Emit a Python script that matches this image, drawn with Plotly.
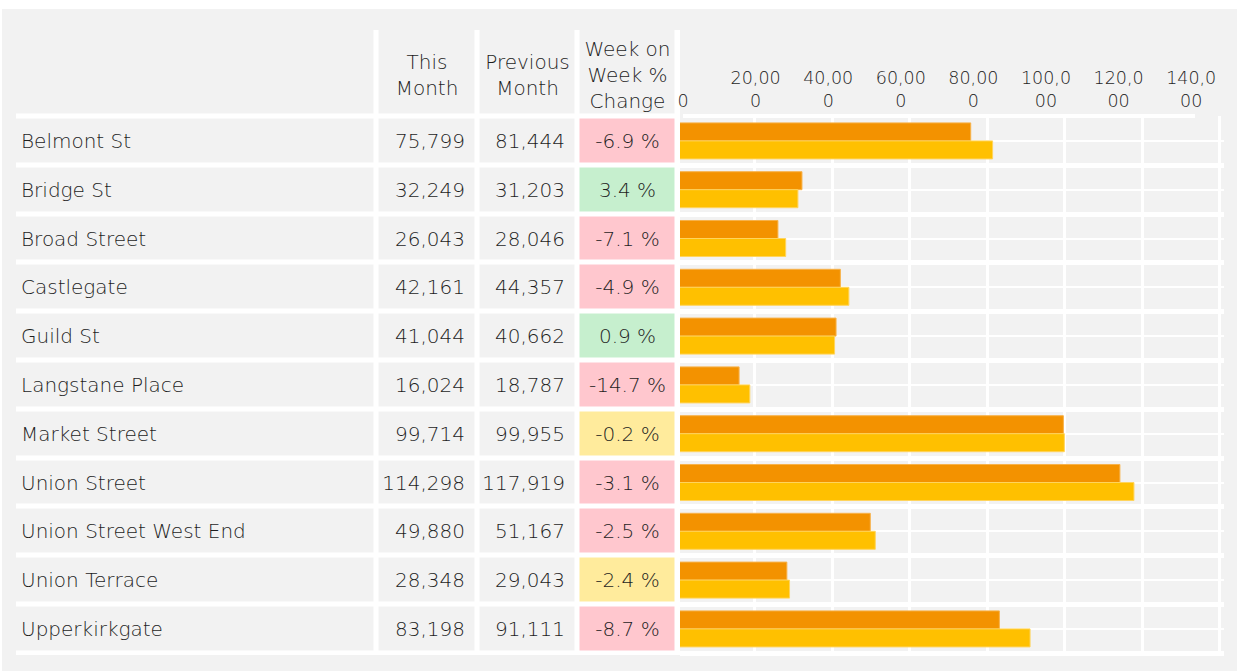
import plotly.graph_objects as go

# ---------------- data ----------------
streets = ["Belmont St", "Bridge St", "Broad Street", "Castlegate", "Guild St",
           "Langstane Place", "Market Street", "Union Street",
           "Union Street West End", "Union Terrace", "Upperkirkgate"]
this_month = [75799, 32249, 26043, 42161, 41044, 16024, 99714, 114298, 49880, 28348, 83198]
prev_month = [81444, 31203, 28046, 44357, 40662, 18787, 99955, 117919, 51167, 29043, 91111]
pct_change = [-6.9, 3.4, -7.1, -4.9, 0.9, -14.7, -0.2, -3.1, -2.5, -2.4, -8.7]
headers = ["", "This<br>Month", "Previous<br>Month", "Week on<br>Week %<br>Change"]
axis_ticks = [0, 20000, 40000, 60000, 80000, 100000, 120000, 140000]

# ---------------- styling / geometry ----------------
W, H = 1237, 671
FONT = "DejaVu Sans"
TXT = "#1e1e1e"
GREY = "#f2f2f2"
PINK, YELLOW, GREEN = "#ffc7ce", "#ffeb9c", "#c6efce"
ORANGE, GOLD = "#f39200", "#ffc000"

GAP = 5
col_widths = [363, 101, 100, 100]
col_left = 13.5
TOP_HDR = 30.0
ROW0 = 116.5
P = 48.8
BOTTOM = 655.0
TXT_DY = 2.0 / P

def fy(p):
    return 1 - p / H

def fx(p):
    return p / W

n = len(streets)
col_edges = [col_left]
for w in col_widths:
    col_edges.append(col_edges[-1] + w)

def idx(pxv):
    return (pxv - ROW0) / P - 0.5

hdr_top = idx(TOP_HDR - GAP / 2)
y_edges = [hdr_top] + [i - 0.5 for i in range(n + 1)]

def cat(v):
    if v > 0:
        return 3
    if v > -2.5:
        return 2
    return 1

z = [[0, 0, 0, 0]] + [[0, 0, 0, cat(v)] for v in pct_change]
cscale = [[0, GREY], [1/6, GREY], [1/6, PINK], [0.5, PINK],
          [0.5, YELLOW], [5/6, YELLOW], [5/6, GREEN], [1, GREEN]]

fig = go.Figure()

fig.add_trace(go.Heatmap(
    z=z, x=col_edges, y=y_edges, xgap=GAP, ygap=GAP,
    colorscale=cscale, zmin=0, zmax=3, showscale=False, hoverinfo="skip",
    xaxis="x", yaxis="y"))

rows = list(range(n))
text_rows = [r + TXT_DY for r in rows]
tfont = dict(family=FONT, size=20, color=TXT, weight=300)

fig.add_trace(go.Scatter(
    x=[col_edges[0] + GAP / 2 + 5] * n, y=text_rows, mode="text", text=streets,
    textposition="middle right", textfont=tfont, hoverinfo="skip",
    showlegend=False, xaxis="x", yaxis="y"))
fig.add_trace(go.Scatter(
    x=[col_edges[2] - GAP / 2 - 10] * n, y=text_rows, mode="text",
    text=[f"{v:,}" for v in this_month],
    textposition="middle left", textfont=tfont, hoverinfo="skip",
    showlegend=False, xaxis="x", yaxis="y"))
fig.add_trace(go.Scatter(
    x=[col_edges[3] - GAP / 2 - 10] * n, y=text_rows, mode="text",
    text=[f"{v:,}" for v in prev_month],
    textposition="middle left", textfont=tfont, hoverinfo="skip",
    showlegend=False, xaxis="x", yaxis="y"))
fig.add_trace(go.Scatter(
    x=[(col_edges[3] + col_edges[4]) / 2] * n, y=text_rows, mode="text",
    text=[f"{v:.1f} %" for v in pct_change],
    textposition="middle center", textfont=tfont, hoverinfo="skip",
    showlegend=False, xaxis="x", yaxis="y"))

hdr_center = idx(77)
fig.add_trace(go.Scatter(
    x=[(col_edges[i] + col_edges[i + 1]) / 2 for i in range(1, 4)],
    y=[hdr_center] * 3, mode="text", text=headers[1:],
    textposition="middle center", textfont=tfont, hoverinfo="skip",
    showlegend=False, xaxis="x", yaxis="y"))

# bars
fig.add_trace(go.Bar(
    x=this_month, y=rows, orientation="h", marker_color=ORANGE,
    marker_line=dict(width=1, color="#f7b24a"), name="This Month",
    xaxis="x2", yaxis="y2", hoverinfo="skip"))
fig.add_trace(go.Bar(
    x=prev_month, y=rows, orientation="h", marker_color=GOLD,
    marker_line=dict(width=1, color="#ffd45c"), name="Previous Month",
    xaxis="x2", yaxis="y2", hoverinfo="skip"))

# label axis carrier
fig.add_trace(go.Scatter(x=[None], y=[None], xaxis="x3", yaxis="y3",
                         showlegend=False, hoverinfo="skip"))

def wrap(v):
    s = f"{v:,}"
    return s if len(s) <= 5 else s[:5] + "<br>" + s[5:]

ZERO_PX = 677.0
STEP_PX = 77.5
LBL0_PX = 683.0
LBL_STEP = 72.6

fig.update_layout(
    width=W, height=H, margin=dict(l=0, r=0, t=0, b=0, pad=0, autoexpand=False),
    autosize=False,
    paper_bgcolor=GREY, plot_bgcolor=GREY, showlegend=False,
    barmode="group", bargap=0.262, bargroupgap=0,
    xaxis=dict(domain=[fx(16), fx(680)], range=[16, 680], visible=False,
               automargin=False, fixedrange=True),
    yaxis=dict(domain=[fy(BOTTOM), fy(TOP_HDR)], automargin=False,
               range=[idx(BOTTOM), idx(TOP_HDR)], visible=False, fixedrange=True),
    xaxis2=dict(domain=[fx(680), fx(1224)], automargin=False,
                range=[(680 - ZERO_PX) / STEP_PX * 20000, (1224 - ZERO_PX) / STEP_PX * 20000],
                anchor="y2", tick0=0, dtick=20000, showgrid=True, gridcolor="white",
                gridwidth=3, zeroline=False, showticklabels=False, ticks="",
                showline=False, fixedrange=True),
    yaxis2=dict(domain=[fy(BOTTOM), fy(116)], range=[idx(BOTTOM), idx(116)],
                anchor="x2", tickmode="array", tickvals=[i - 0.5 for i in range(n + 1)],
                showgrid=True, gridcolor="white", gridwidth=5, zeroline=False,
                showticklabels=False, ticks="", showline=False, automargin=False,
                minor=dict(tickmode="array", tickvals=rows, showgrid=True,
                           gridcolor="white", gridwidth=2, ticks=""),
                fixedrange=True),
    xaxis3=dict(domain=[fx(LBL0_PX), fx(1195)], automargin=False,
                range=[0, (1195 - LBL0_PX) / LBL_STEP * 20000], anchor="y3",
                side="bottom", ticklabelposition="inside", ticklabeloverflow="allow",
                ticklabelstandoff=4,
                tickmode="array", tickvals=axis_ticks,
                ticktext=[wrap(v) for v in axis_ticks],
                tickfont=dict(family=FONT, size=17.5, color=TXT, weight=300),
                showline=True, linecolor="white", linewidth=4, showgrid=False,
                zeroline=False, ticks="", fixedrange=True),
    yaxis3=dict(domain=[fy(113.5), fy(30)], range=[0, 1], anchor="x3",
                visible=False, automargin=False, fixedrange=True),
    shapes=[
        dict(type="rect", xref="paper", yref="paper", x0=0, x1=1, y0=fy(9), y1=1,
             fillcolor="white", line_width=0, layer="below"),
        dict(type="rect", xref="paper", yref="paper", x0=0, x1=fx(2), y0=0, y1=1,
             fillcolor="white", line_width=0, layer="below"),
        dict(type="rect", xref="x domain", yref="y domain", x0=0, x1=1, y0=0, y1=1,
             fillcolor="white", line_width=0, layer="below"),
    ],
)

fig.write_html("out.html", config={"displayModeBar": False, "responsive": False},
               post_script="document.body.style.margin='0';document.body.style.overflow='hidden';")
